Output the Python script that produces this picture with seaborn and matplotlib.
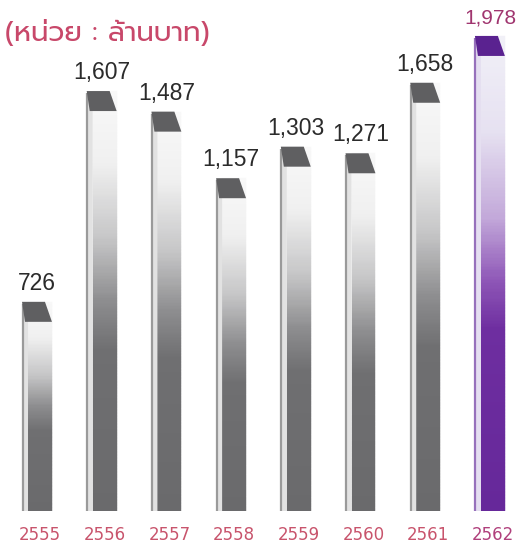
import matplotlib
matplotlib.use("Agg")
import numpy as np
import pandas as pd
import seaborn as sns
import matplotlib.pyplot as plt
from matplotlib import font_manager
from matplotlib.colors import LinearSegmentedColormap
from matplotlib.patches import Polygon
from matplotlib.collections import PolyCollection

# ---- data ----
years = ["2555", "2556", "2557", "2558", "2559", "2560", "2561", "2562"]
values = [726, 1607, 1487, 1157, 1303, 1271, 1658, 1978]
value_labels = ["726", "1,607", "1,487", "1,157", "1,303", "1,271", "1,658", "1,978"]
title_text = "(หน่วย : ล้านบาท)"

df = pd.DataFrame({"year": years, "value": values})

sns.set_theme(style="white")
names = {f.name for f in font_manager.fontManager.ttflist}
thai_font = next((n for n in ["Prompt", "Kanit", "Noto Sans Thai", "Sarabun", "Bai Jamjuree"] if n in names), "DejaVu Sans")
num_font = "Liberation Sans"
plt.rcParams["font.family"] = [num_font, "DejaVu Sans"]

W, H = 518, 548
fig = plt.figure(figsize=(W / 100, H / 100), dpi=100)
fig.patch.set_facecolor("white")
bottom_px = 37
ax = fig.add_axes([0, bottom_px / H, 1, (H - bottom_px) / H])
ax_w, ax_h = W, H - bottom_px
ax.set_yscale("log")

sns.barplot(data=df, x="year", y="value", width=0.37, color="#777777", ax=ax,
            saturation=1, linewidth=0)
ax.set_xlim(-0.618, 7.388)
ax.set_ylim(330, 2265)
ax.set_autoscale_on(False)
ax.set_axis_off()

gray_cmap = LinearSegmentedColormap.from_list(
    "g", [(0, "#f8f8f8"), (0.17, "#f0f0f0"), (0.35, "#c6c6c7"), (0.5, "#8d8d8f"),
          (0.62, "#6f6f71"), (1, "#6a6a6c")])
purple_cmap = LinearSegmentedColormap.from_list(
    "p", [(0, "#f1f0f7"), (0.2, "#e6e1f1"), (0.38, "#c3a9da"), (0.52, "#8d55b6"),
          (0.62, "#6e2ea0"), (1, "#66289a")])

fig.canvas.draw()
inv = ax.transAxes.inverted()
patches = list(ax.patches)
px = 1.0 / ax_w
py = 1.0 / ax_h
for i, p in enumerate(patches):
    purple = (i == len(patches) - 1)
    bb = p.get_window_extent()
    (x0, y0), (x1, y1) = inv.transform([[bb.x0, bb.y0], [bb.x1, bb.y1]])
    y0 = max(y0, 0.0)
    n = 150
    ys = np.linspace(y1, y0, n + 1)
    verts = [[(x0, ys[k]), (x1, ys[k]), (x1, ys[k + 1]), (x0, ys[k + 1])] for k in range(n)]
    cm = purple_cmap if purple else gray_cmap
    cols = cm(np.linspace(0, 1, n))
    pc = PolyCollection(verts, facecolors=cols, edgecolors=cols, linewidths=0.3,
                        transform=ax.transAxes, zorder=2)
    ax.add_collection(pc, autolim=False)
    p.set_visible(False)
    # side strip (left face)
    side_col = "#e4def0" if purple else "#e2e2e2"
    edge_col = "#9670bb" if purple else "#9a9a9a"
    side = Polygon([[x0 - 5 * px, y0], [x0, y0], [x0, y1 - 20 * py], [x0 - 5 * px, y1 - 2 * py]],
                   closed=True, transform=ax.transAxes, facecolor=side_col, edgecolor="none", zorder=2)
    ax.add_patch(side)
    ax.plot([x0 - 5.5 * px, x0 - 5.5 * px], [y0, y1 - 2 * py], transform=ax.transAxes,
            color=edge_col, lw=1.6, zorder=3, solid_capstyle="butt")
    # cap
    cap_col = "#5a2290" if purple else "#5f5f61"
    cap = Polygon([[x0 - 6 * px, y1], [x1 - 7 * px, y1], [x1, y1 - 20 * py], [x0 - 3 * px, y1 - 20 * py]],
                  closed=True, transform=ax.transAxes, facecolor=cap_col, edgecolor="none", zorder=4)
    ax.add_patch(cap)

for i, (v, lab) in enumerate(zip(values, value_labels)):
    purple = (i == len(values) - 1)
    if purple:
        ax.annotate(lab, xy=(i, v), xytext=(24, 12), textcoords="offset pixels",
                    ha="right", va="baseline", fontsize=15, color="#a0356f",
                    family=[num_font, "DejaVu Sans"], annotation_clip=False)
    else:
        ax.annotate(lab, xy=(i, v), xytext=(-3, 12), textcoords="offset pixels",
                    ha="center", va="baseline", fontsize=16.5, color="#2b2b2b",
                    family=[num_font, "DejaVu Sans"], annotation_clip=False)

# x tick labels
for i, y in enumerate(years):
    xd = ax.transData.transform((i, 1000))[0]
    fig.text(xd / W, 13 / H, y, ha="center", va="center", fontsize=12,
             color="#b0407c" if i == len(years) - 1 else "#c8546c",
             family=["DejaVu Sans"])

fig.text(5 / W, 1 - 33 / H, title_text, ha="left", va="center", fontsize=20,
         color="#c8486a", fontweight="normal", family=[thai_font, "DejaVu Sans"])

fig.savefig("out.png", dpi=100, facecolor="white")
